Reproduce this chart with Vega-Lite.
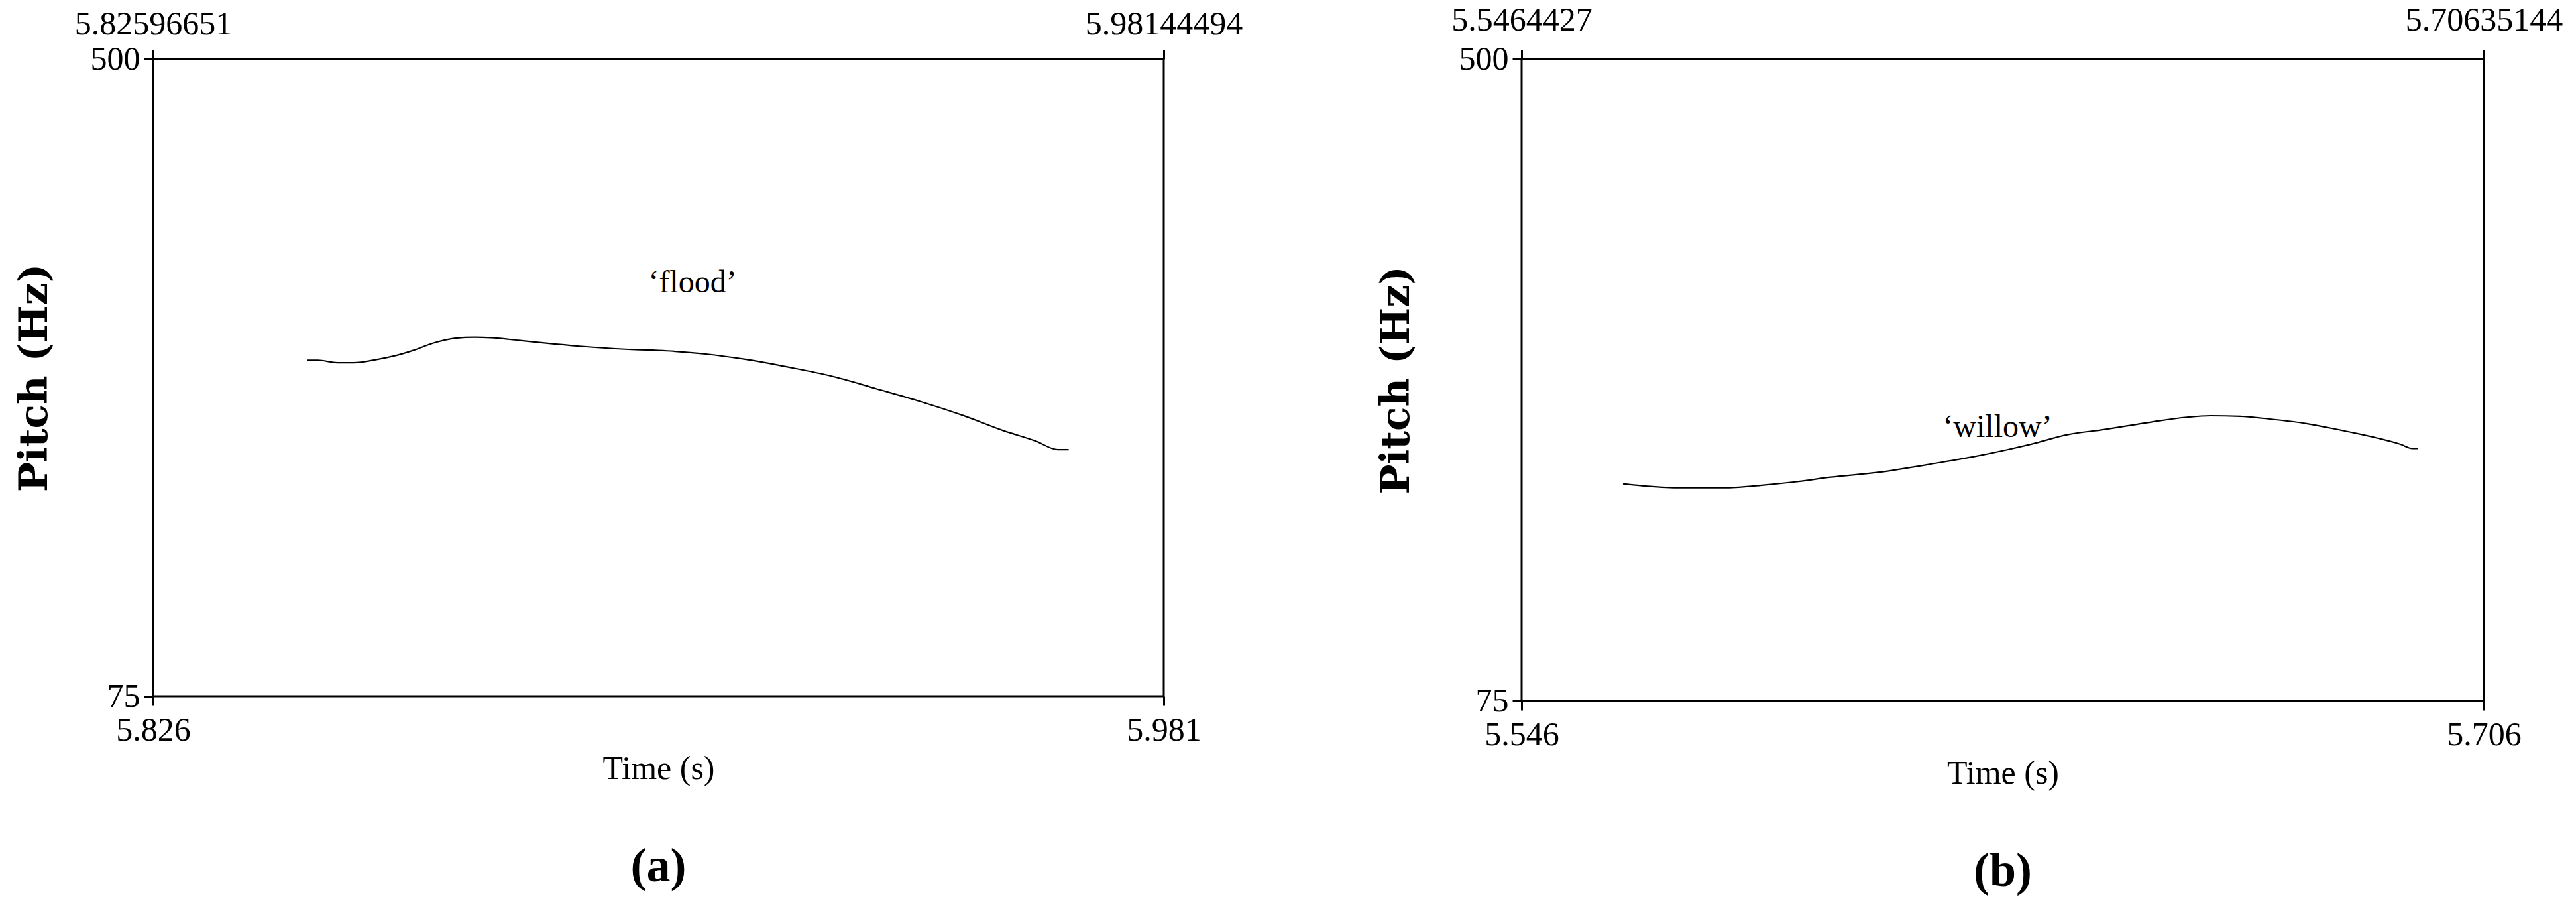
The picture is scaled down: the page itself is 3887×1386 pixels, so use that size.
{
  "$schema": "https://vega.github.io/schema/vega-lite/v6.json",
  "background": "white",
  "padding": {"left": 20, "top": 3, "right": 0, "bottom": 0},
  "autosize": {"type": "pad"},
  "datasets": {
    "pitch_a": [
      {"t": 5.84962, "pitch": 299.1}, {"t": 5.85131, "pitch": 299.1}, {"t": 5.85428, "pitch": 297.4},
      {"t": 5.85682, "pitch": 297.4}, {"t": 5.8602, "pitch": 299.4}, {"t": 5.86358, "pitch": 302.5},
      {"t": 5.86612, "pitch": 305.8}, {"t": 5.86908, "pitch": 310.5}, {"t": 5.87247, "pitch": 313.8},
      {"t": 5.87543, "pitch": 314.4}, {"t": 5.87797, "pitch": 314.1}, {"t": 5.8822, "pitch": 312.3},
      {"t": 5.88643, "pitch": 310.4}, {"t": 5.89151, "pitch": 308.4}, {"t": 5.89912, "pitch": 306.3},
      {"t": 5.90505, "pitch": 305.3}, {"t": 5.91097, "pitch": 303.2}, {"t": 5.91689, "pitch": 299.8},
      {"t": 5.92366, "pitch": 294.5}, {"t": 5.93043, "pitch": 288.4}, {"t": 5.9372, "pitch": 280.1},
      {"t": 5.94397, "pitch": 271.6}, {"t": 5.95074, "pitch": 262.0}, {"t": 5.95667, "pitch": 252.3},
      {"t": 5.96174, "pitch": 245.2}, {"t": 5.96513, "pitch": 239.5}, {"t": 5.96682, "pitch": 239.5}
    ],
    "label_a": [{"t": 5.90896, "pitch": 350.3, "label": "‘flood’"}],
    "pitch_b": [
      {"t": 5.56329, "pitch": 218.7}, {"t": 5.56625, "pitch": 217.5}, {"t": 5.57217, "pitch": 216.1},
      {"t": 5.58055, "pitch": 216.1}, {"t": 5.58696, "pitch": 218.0}, {"t": 5.59189, "pitch": 220.0},
      {"t": 5.59781, "pitch": 223.1}, {"t": 5.6057, "pitch": 226.3}, {"t": 5.61556, "pitch": 232.5},
      {"t": 5.62147, "pitch": 236.6}, {"t": 5.6274, "pitch": 241.5}, {"t": 5.63134, "pitch": 245.2},
      {"t": 5.63726, "pitch": 251.3}, {"t": 5.64318, "pitch": 254.6}, {"t": 5.65107, "pitch": 259.6},
      {"t": 5.65698, "pitch": 262.8}, {"t": 5.66092, "pitch": 263.8}, {"t": 5.66586, "pitch": 263.4},
      {"t": 5.67079, "pitch": 261.6}, {"t": 5.6767, "pitch": 258.7}, {"t": 5.68263, "pitch": 254.2},
      {"t": 5.68854, "pitch": 249.1}, {"t": 5.69249, "pitch": 244.9}, {"t": 5.69446, "pitch": 242.1},
      {"t": 5.69545, "pitch": 242.1}
    ],
    "label_b": [{"t": 5.62552, "pitch": 256.1, "label": "‘willow’"}]
  },
  "spacing": 540,
  "bounds": "flush",
  "hconcat": [
    {
      "width": 1525,
      "height": 961,
      "title": "(a)",
      "resolve": {"axis": {"x": "independent"}},
      "layer": [
        {
          "data": {"name": "pitch_a"},
          "mark": {"type": "line", "color": "black", "strokeWidth": 2.2, "interpolate": "monotone"},
          "encoding": {
            "x": {"field": "t", "type": "quantitative",
              "scale": {"domain": [5.82596651, 5.98144494], "nice": false, "zero": false},
              "axis": {"orient": "bottom", "values": [5.82596651, 5.98144494], "format": ".3f", "title": "Time (s)", "labelPadding": 12, "titlePadding": 8}},
            "y": {"field": "pitch", "type": "quantitative",
              "scale": {"domain": [75, 500], "nice": false, "zero": false},
              "axis": {"values": [75, 500], "title": "Pitch (Hz)", "titleFont": "DejaVu Serif", "titleFontSize": 60, "titleFontWeight": "bold", "labelPadding": 6, "titlePadding": 53}}
          }
        },
        {
          "data": {"name": "label_a"},
          "mark": {"type": "text", "font": "Liberation Serif", "fontSize": 48, "color": "black"},
          "encoding": {
            "x": {"field": "t", "type": "quantitative",
              "axis": {"orient": "top", "values": [5.82596651, 5.98144494], "format": ".9~r", "title": null, "labelPadding": 14}},
            "y": {"field": "pitch", "type": "quantitative"},
            "text": {"field": "label"}
          }
        }
      ]
    },
    {
      "width": 1452,
      "height": 968,
      "title": "(b)",
      "resolve": {"axis": {"x": "independent"}},
      "layer": [
        {
          "data": {"name": "pitch_b"},
          "mark": {"type": "line", "color": "black", "strokeWidth": 2.2, "interpolate": "monotone"},
          "encoding": {
            "x": {"field": "t", "type": "quantitative",
              "scale": {"domain": [5.5464427, 5.70635144], "nice": false, "zero": false},
              "axis": {"orient": "bottom", "values": [5.5464427, 5.70635144], "format": ".3f", "title": "Time (s)", "labelPadding": 12, "titlePadding": 8}},
            "y": {"field": "pitch", "type": "quantitative",
              "scale": {"domain": [75, 500], "nice": false, "zero": false},
              "axis": {"values": [75, 500], "title": "Pitch (Hz)", "titleFont": "DejaVu Serif", "titleFontSize": 60, "titleFontWeight": "bold", "labelPadding": 6, "titlePadding": 63}}
          }
        },
        {
          "data": {"name": "label_b"},
          "mark": {"type": "text", "font": "Liberation Serif", "fontSize": 48, "color": "black"},
          "encoding": {
            "x": {"field": "t", "type": "quantitative",
              "axis": {"orient": "top", "values": [5.5464427, 5.70635144], "format": ".9~r", "title": null, "labelPadding": 20}},
            "y": {"field": "pitch", "type": "quantitative"},
            "text": {"field": "label"}
          }
        }
      ]
    }
  ],
  "config": {
    "view": {"stroke": "black", "strokeWidth": 3},
    "font": "Liberation Serif",
    "axis": {
      "labelFont": "Liberation Serif", "labelFontSize": 50, "labelColor": "black", "labelLimit": 0,
      "tickColor": "black", "tickSize": 14, "tickWidth": 3, "domain": false, "grid": false,
      "titleFont": "Liberation Serif", "titleFontSize": 50, "titleColor": "black", "titleFontWeight": "normal",
      "labelFlush": false, "labelOverlap": false, "labelBound": false
    },
    "title": {"font": "Liberation Serif", "fontSize": 72, "fontWeight": "bold", "color": "black", "orient": "bottom", "anchor": "middle", "offset": 88}
  }
}
